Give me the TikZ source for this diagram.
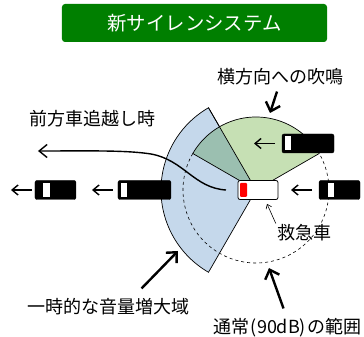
\documentclass[tikz,border=0pt]{standalone}
\usepackage{fontspec}
\setmainfont{Noto Sans CJK JP}
\usetikzlibrary{arrows.meta}
\definecolor{boostblue}{HTML}{C5D8EB}
\definecolor{sidegreen}{HTML}{C6E0B4}
\definecolor{overlapgreen}{HTML}{9BBFB0}
\definecolor{titlegreen}{HTML}{007F00}
\tikzset{
  carbody/.style={draw=black,fill=black,rounded corners=2pt,minimum height=19pt,inner sep=0pt,outer sep=0pt},
  carwindow/.style={fill=white,minimum width=6.5pt,minimum height=14pt,inner sep=0pt},
  smallarrow/.style={line width=1.4pt,-{Straight Barb[length=6pt,width=10pt]}},
  bigarrow/.style={line width=2.4pt,-{Straight Barb[length=8pt,width=15pt]}},
  caption/.style={font=\fontsize{18}{20}\selectfont,inner sep=1pt},
}
\begin{document}
\begin{tikzpicture}[x=1pt,y=1pt]
\useasboundingbox (-256,-147) rectangle (108,190);
\node[fill=titlegreen,rounded corners=3pt,minimum width=265pt,minimum height=38pt,inner sep=0pt,text=white,font=\fontsize{19.4}{21}\selectfont] (title) at (-61.5,167) {新サイレンシステム};
\draw[fill=boostblue,line width=0.7pt] (0,0) -- (120:95) arc[start angle=120,end angle=240,radius=95] -- cycle;
\fill[sidegreen] (0,0) -- (30:73) arc[start angle=30,end angle=150,radius=73] -- cycle;
\begin{scope}
  \clip (0,0) -- (120:95) arc[start angle=120,end angle=240,radius=95] -- cycle;
  \fill[overlapgreen] (0,0) -- (30:73) arc[start angle=30,end angle=150,radius=73] -- cycle;
\end{scope}
\draw[line width=0.7pt] (0,0) -- (30:73) arc[start angle=30,end angle=150,radius=73] -- cycle;
\draw[line width=0.7pt] (0,0) -- (120:95);
\draw[dashed,line width=0.6pt] (150:73) arc[start angle=150,end angle=390,radius=73];
\node[draw=black,fill=white,rounded corners=2pt,minimum width=40pt,minimum height=19pt,inner sep=0pt,line width=0.8pt] (ambulance) at (2,0) {};
\fill[red,rounded corners=1pt] (-16,-7) rectangle (-9,7);
\foreach\name/\xpos/\ypos/\len/\win/\gap in {carRight/83.5/0/41/75/7,carTop/52/46.5/52/32/7,carBehind/-111.5/0/53/-132/5,carFront/-200.5/0/41/-209.5/3}{
  \node[carbody,minimum width=\len pt] (\name) at (\xpos,\ypos) {};
  \node[carwindow] (\name Window) at (\win,\ypos) {};
  \draw[smallarrow] ([xshift=-\gap pt]\name.west) -- ++(-21,0);
}
\coordinate (curveStart) at (-30,0);
\coordinate (curveEnd) at (-218,39);
\draw[line width=1.4pt,-{Straight Barb[length=8pt,width=13pt]}] (curveStart) .. controls (-62,2) and (-72,30) .. (-105,36) .. controls (-130,40) and (-170,39) .. (curveEnd);
\node[caption] (lateralLabel) at (25,113) {横方向への吹鳴};
\node[caption] (passLabel) at (-163,71) {前方車追越し時};
\node[caption] (ambulanceLabel) at (48,-43) {救急車};
\node[caption] (boostLabel) at (-147.5,-117) {一時的な音量増大域};
\node[caption] (normalLabel) at (31.5,-138) {通常\kern1.5pt(90dB)\kern1.5ptの範囲};
\coordinate (lateralTip) at (14,77);
\coordinate (boostTip) at (-78,-61);
\coordinate (normalTip) at (13,-78);
\draw[bigarrow] ([xshift=-4pt,yshift=-5pt]lateralLabel.south) -- (lateralTip);
\draw[bigarrow] ([xshift=33pt,yshift=9pt]boostLabel.north) -- (boostTip);
\draw[bigarrow] ([xshift=-4pt,yshift=9pt]normalLabel.north) -- (normalTip);
\draw[line width=0.6pt,-{Straight Barb[length=4pt,width=6pt]}] (ambulanceLabel.north west) -- ([xshift=9pt,yshift=-4pt]ambulance.south);
\end{tikzpicture}
\end{document}
